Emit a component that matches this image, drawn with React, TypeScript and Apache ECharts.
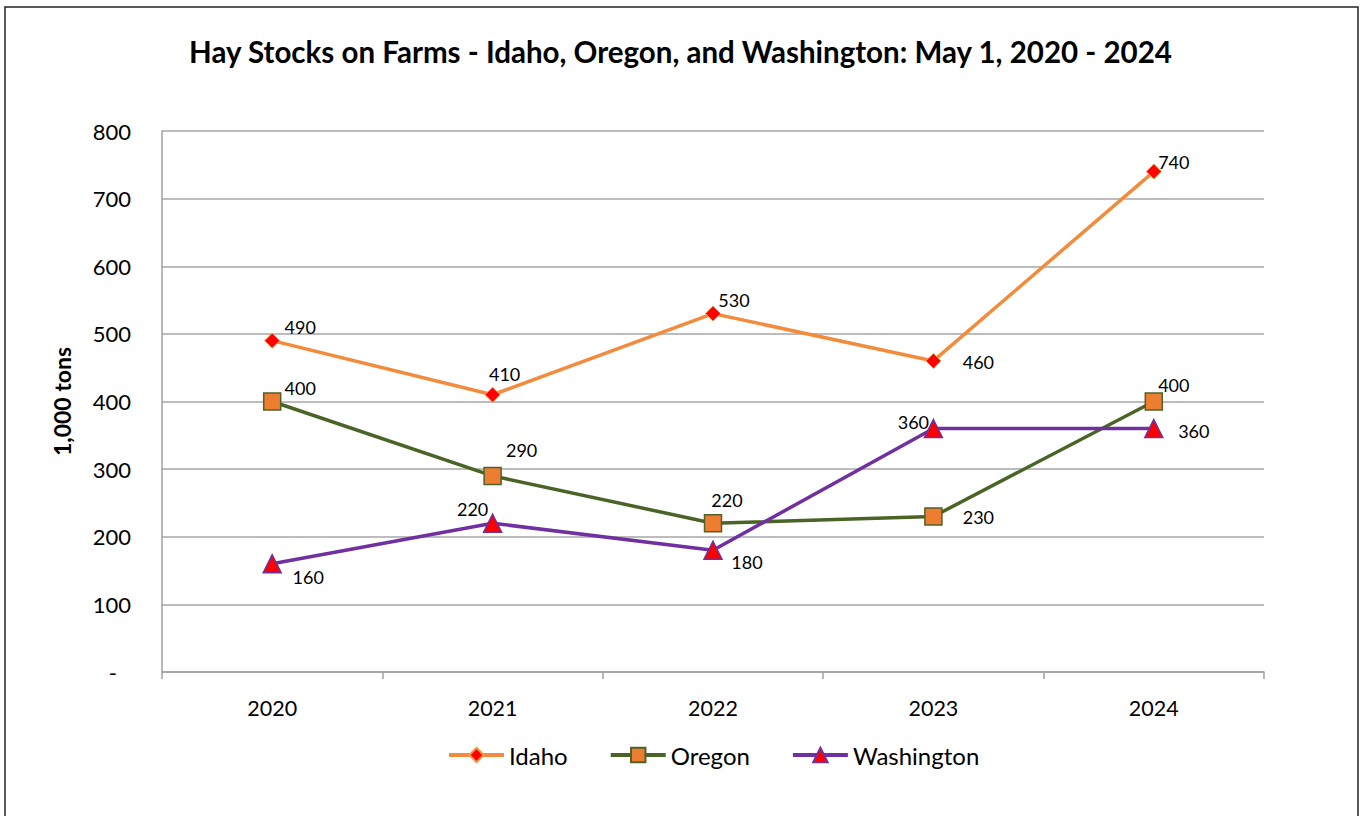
import React, { useEffect, useRef } from "react";
import * as echarts from "echarts";

const years = ["2020", "2021", "2022", "2023", "2024"];
const idaho = [490, 410, 530, 460, 740];
const oregon = [400, 290, 220, 230, 400];
const washington = [160, 220, 180, 360, 360];

const idahoLabelOffsets = [[28, -14], [12, -21], [21, -14], [45, 1], [20, -10]];
const oregonLabelOffsets = [[28, -14], [29, -26], [14, -23], [45, 1], [20, -17]];
const washingtonLabelOffsets = [[36, 13], [-20, -14], [34, 12], [-20, -7], [40, 2]];

const FONT = "Lato, 'Open Sans', sans-serif";

function buildData(values: number[], offsets: number[][]) {
  return values.map((v, i) => ({
    value: v,
    label: { offset: offsets[i] },
  }));
}

export default function App() {
  const ref = useRef<HTMLDivElement>(null);
  useEffect(() => {
    if (!ref.current) return;
    const chart = echarts.init(ref.current, null, { renderer: "svg" });
    const labelBase = {
      show: true,
      position: "inside",
      color: "#000",
      fontSize: 18,
      fontFamily: FONT,
    };
    chart.setOption({
      animation: false,
      backgroundColor: "#fff",
      textStyle: { fontFamily: FONT },
      graphic: [
        {
          type: "rect",
          shape: { x: 5, y: 7, width: 1353, height: 830 },
          style: { fill: "none", stroke: "#222", lineWidth: 1.5 },
          silent: true,
        },
      ],
      title: {
        text: "Hay Stocks on Farms - Idaho, Oregon, and Washington: May 1, 2020 - 2024",
        left: "center",
        top: 31,
        textStyle: { fontSize: 29.5, fontWeight: "bold", color: "#000", fontFamily: FONT },
      },
      legend: {
        left: 442,
        top: 738,
        itemWidth: 55,
        itemHeight: 18,
        itemGap: 41,
        lineStyle: { width: 4 },
        textStyle: { fontSize: 24, color: "#000", fontFamily: FONT },
        data: ["Idaho", "Oregon", "Washington"],
      },
      grid: { left: 162, right: 97, top: 131, bottom: 144 },
      xAxis: {
        type: "category",
        data: years,
        boundaryGap: true,
        axisLine: { lineStyle: { color: "#a0a0a0", width: 1.5 } },
        axisTick: { show: true, length: 7, lineStyle: { color: "#a0a0a0", width: 1.5 } },
        axisLabel: { fontSize: 21.5, color: "#000", margin: 25, fontFamily: FONT },
        splitLine: { show: false },
      },
      yAxis: {
        type: "value",
        min: 0,
        max: 800,
        interval: 100,
        name: "1,000 tons",
        nameLocation: "middle",
        nameGap: 89,
        nameTextStyle: { fontSize: 23, fontWeight: "bold", color: "#000", fontFamily: FONT },
        axisLine: { show: true, lineStyle: { color: "#a0a0a0", width: 1.5 } },
        axisTick: { show: false },
        axisLabel: {
          fontSize: 22,
          color: "#000",
          margin: 31,
          fontFamily: FONT,
          formatter: (v: number) => (v === 0 ? "{d|-}" : String(v)),
          rich: { d: { fontSize: 22, color: "#000", padding: [0, 14, 0, 0], fontFamily: FONT } },
        },
        splitLine: { show: true, lineStyle: { color: "#a6a6a6", width: 1.5 } },
      },
      series: [
        {
          name: "Idaho",
          type: "line",
          data: buildData(idaho, idahoLabelOffsets),
          symbol: "diamond",
          symbolSize: 15,
          lineStyle: { color: "#F38B3C", width: 3.5 },
          itemStyle: { color: "#FF0000", borderColor: "#F79646", borderWidth: 1 },
          label: labelBase,
          z: 3,
        },
        {
          name: "Oregon",
          type: "line",
          data: buildData(oregon, oregonLabelOffsets),
          symbol: "rect",
          symbolSize: 17,
          lineStyle: { color: "#4A6326", width: 3.5 },
          itemStyle: { color: "#ED7D31", borderColor: "#4F6228", borderWidth: 1.5 },
          label: labelBase,
          z: 2,
        },
        {
          name: "Washington",
          type: "line",
          data: buildData(washington, washingtonLabelOffsets),
          symbol: "triangle",
          symbolSize: 18,
          lineStyle: { color: "#7030A0", width: 3.5 },
          itemStyle: { color: "#FF0000", borderColor: "#7030A0", borderWidth: 1.5 },
          label: labelBase,
          z: 4,
        },
      ],
    });
    return () => chart.dispose();
  }, []);
  return (
    <div
      ref={ref}
      style={{ position: "absolute", left: 0, top: 0, width: 1361, height: 816 }}
    />
  );
}
